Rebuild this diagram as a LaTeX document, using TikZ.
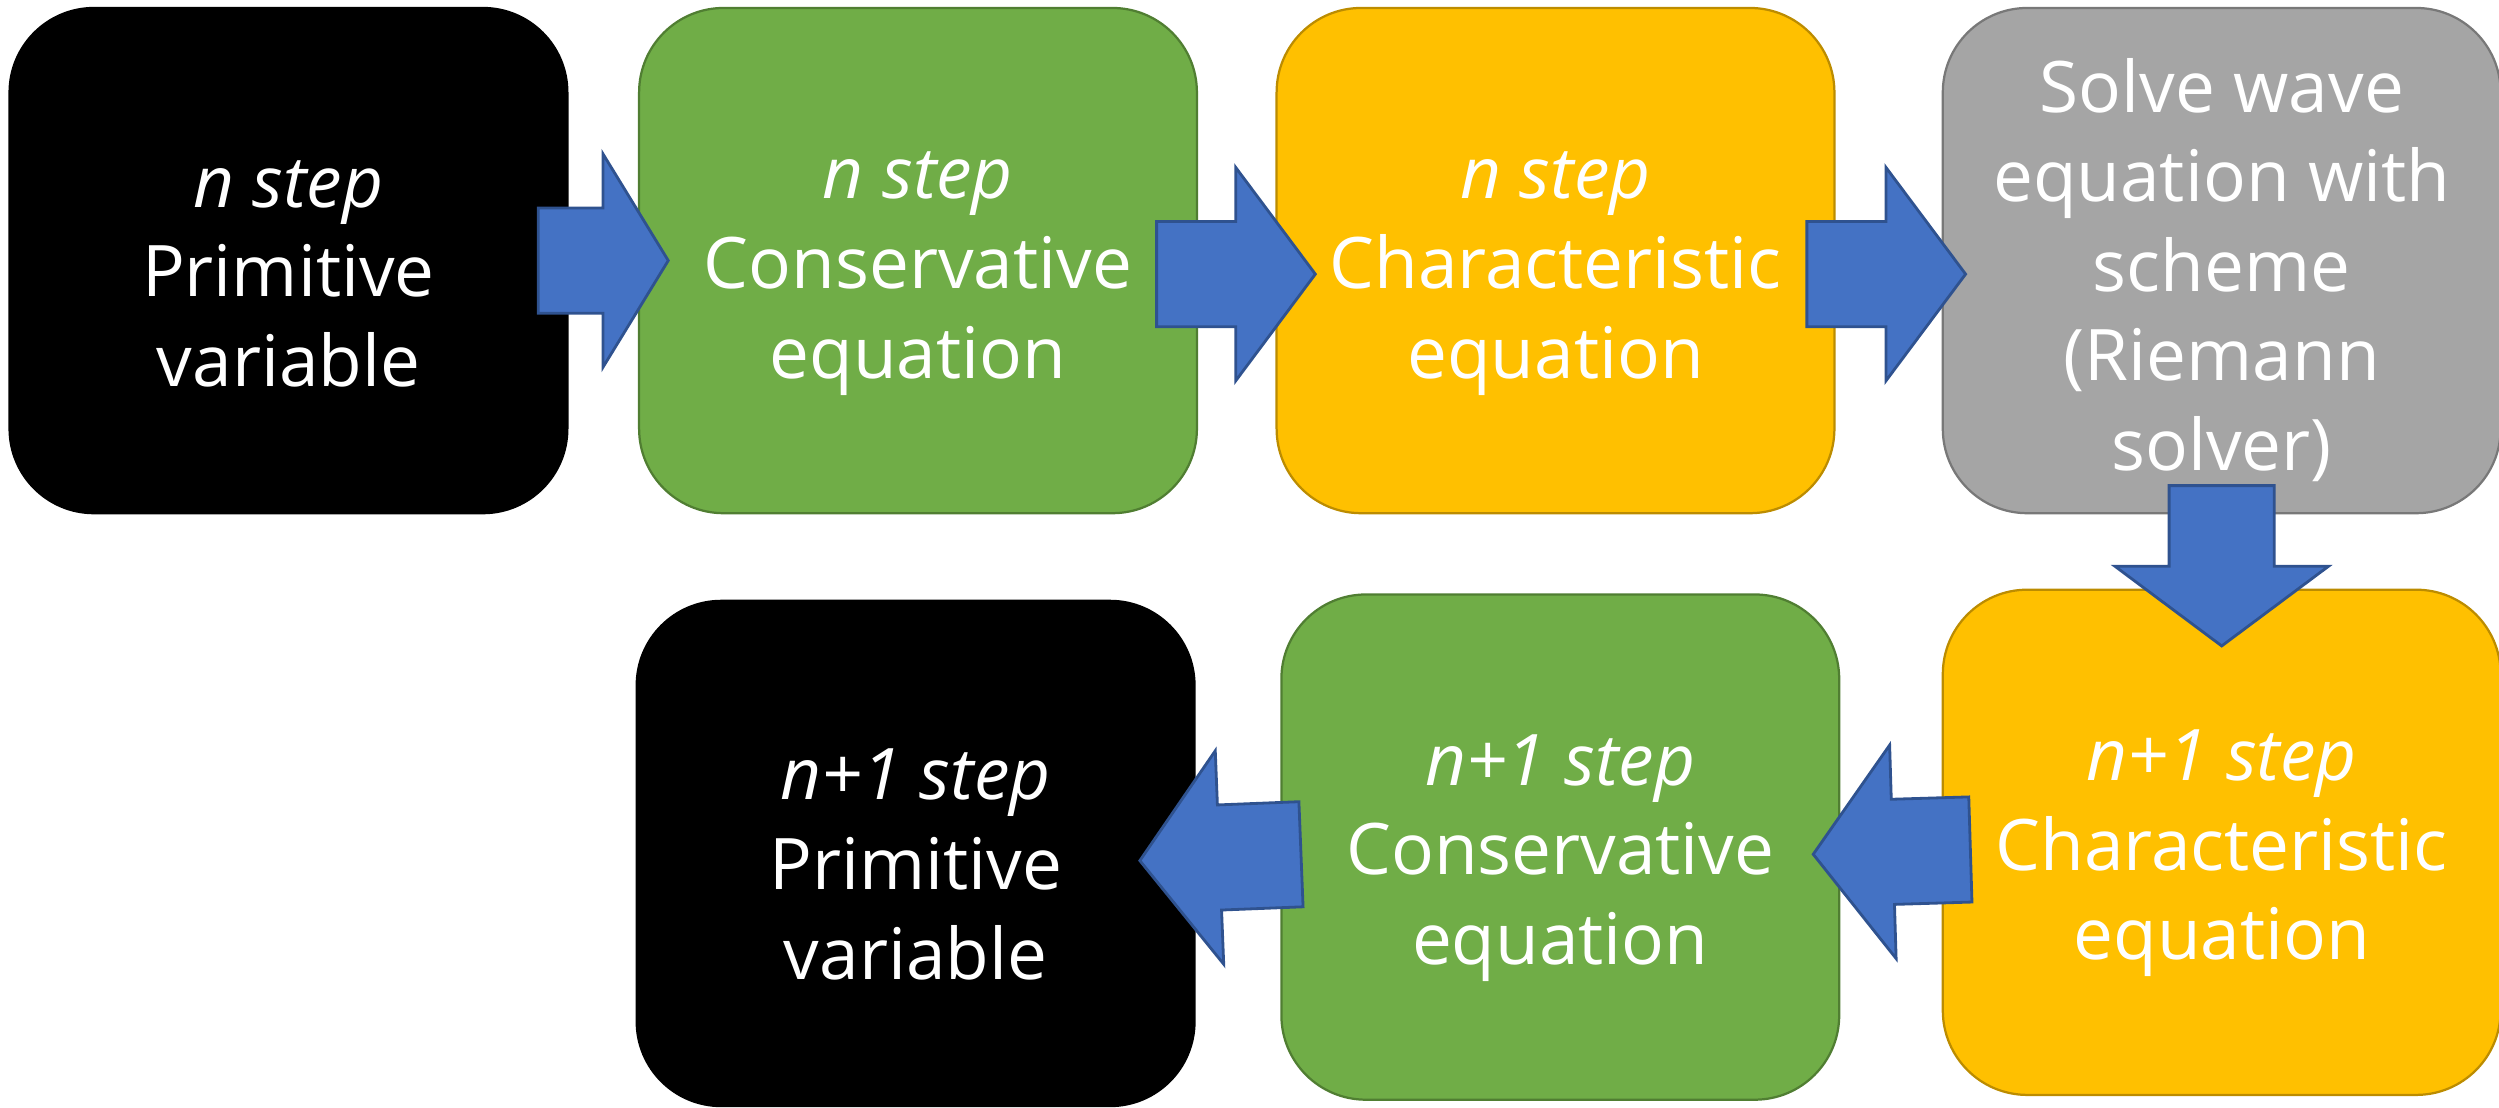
\documentclass[tikz,border=0pt]{standalone}
\usepackage{fontspec}
\setmainfont{Open Sans}
\usepackage{tikz}
\usetikzlibrary{calc}
\definecolor{arrowblue}{HTML}{4472C4}
\definecolor{arrowline}{HTML}{2F528F}
\definecolor{boxgreen}{HTML}{70AD47}
\definecolor{greenline}{HTML}{507E32}
\definecolor{boxyellow}{HTML}{FFC000}
\definecolor{yellowline}{HTML}{BC8C00}
\definecolor{boxgray}{HTML}{A5A5A5}
\definecolor{grayline}{HTML}{787878}
\tikzstyle{flowbox} = [rectangle, rounded corners=0.53cm, line width=0.4pt,
minimum width=3.5cm, minimum height=3.17cm, inner sep=0pt,
text=white, align=center, font=\fontsize{12.7}{16}\selectfont]
\tikzstyle{blackbox} = [flowbox, draw=black, fill=black]
\tikzstyle{greenbox} = [flowbox, draw=greenline, fill=boxgreen]
\tikzstyle{yellowbox} = [flowbox, draw=yellowline, fill=boxyellow]
\tikzstyle{graybox} = [flowbox, draw=grayline, fill=boxgray]
\tikzstyle{arrowbox} = [draw=arrowline, fill=arrowblue, line width=0.5pt, line join=miter]
% strut on the first line, pushes the text a bit down
\newcommand{\topline}{\rule{0pt}{13pt}}
% fat arrow: [head length]{tail}{tip}
\newcommand{\blockarrow}[3][0.5cm]{%
	\coordinate (tail) at (#2);
	\coordinate (tip) at (#3);
	\coordinate (neck) at ($(tip)!#1!(tail)$);
	\draw[arrowbox] ($(tail)!0.33cm!90:(tip)$) -- ($(neck)!0.33cm!90:(tip)$)
		-- ($(neck)!0.67cm!90:(tip)$) -- (tip) -- ($(neck)!0.67cm!-90:(tip)$)
		-- ($(neck)!0.33cm!-90:(tip)$) -- ($(tail)!0.33cm!-90:(tip)$) -- cycle;
}

\begin{document}
\begin{tikzpicture}
		\useasboundingbox (0,0) rectangle (15.68,6.95);
		% n step
		\node [blackbox] (prim) at (1.81,5.315) {\topline\textit{n step}\\Primitive\\variable};
		\node [greenbox] (cons) at (5.76,5.315) {\topline\textit{n step}\\Conservative\\equation};
		\node [yellowbox] (char) at (9.76,5.315) {\topline\textit{n step}\\Characteristic\\equation};
		\node [graybox] (solve) at (13.94,5.315) {\topline Solve wave\\equation with\\scheme\\(Riemann\\solver)};
		% n+1 step
		\node [yellowbox] (charnext) at (13.94,1.665) {\topline\textit{n+1 step}\\Characteristic\\equation};
		\node [greenbox] (consnext) at (9.79,1.635) {\topline\textit{n+1 step}\\Conservative\\equation};
		\node [blackbox] (primnext) at (5.745,1.595) {\topline\textit{n+1 step}\\Primitive\\variable};
		
		\blockarrow[0.41cm]{[xshift=-0.19cm]prim.east}{[xshift=0.19cm]cons.west}
		\blockarrow{[xshift=-0.26cm,yshift=-0.085cm]cons.east}{[xshift=0.25cm,yshift=-0.085cm]char.west}
		\blockarrow{[xshift=-0.18cm,yshift=-0.085cm]char.east}{[xshift=0.15cm,yshift=-0.085cm]solve.west}
		\blockarrow{[yshift=0.18cm]solve.south}{[yshift=-0.36cm]charnext.north}
		\blockarrow{[xshift=0.18cm,yshift=-0.045cm]charnext.west}{[xshift=-0.17cm,yshift=-0.045cm]consnext.east}
		\blockarrow{[xshift=0.13cm,yshift=-0.045cm]consnext.west}{[xshift=-0.35cm,yshift=-0.045cm]primnext.east}
		%\node at (0,0) {};
\end{tikzpicture}
\end{document}
